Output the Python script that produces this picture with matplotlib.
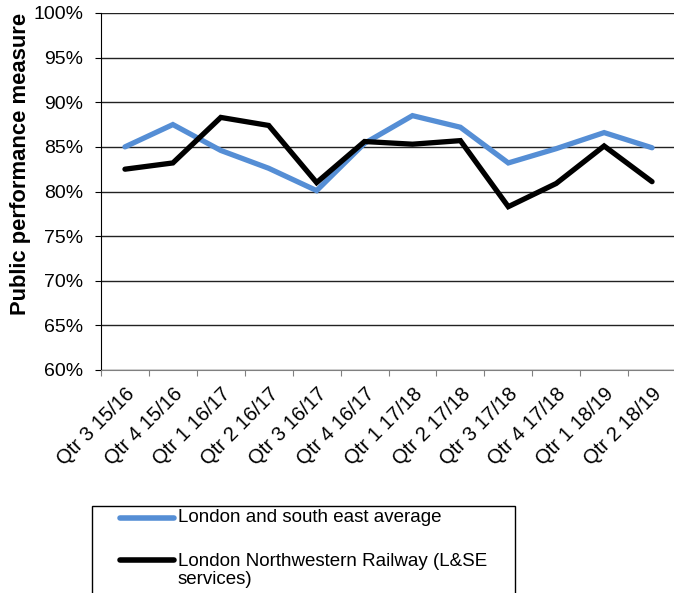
import matplotlib.pyplot as plt
from matplotlib.lines import Line2D
from matplotlib.patches import Rectangle
from matplotlib.ticker import PercentFormatter

plt.rcParams['font.family'] = ['Liberation Sans', 'DejaVu Sans']

quarters = ['Qtr 3 15/16', 'Qtr 4 15/16', 'Qtr 1 16/17', 'Qtr 2 16/17',
            'Qtr 3 16/17', 'Qtr 4 16/17', 'Qtr 1 17/18', 'Qtr 2 17/18',
            'Qtr 3 17/18', 'Qtr 4 17/18', 'Qtr 1 18/19', 'Qtr 2 18/19']
lse_avg = [85.0, 87.5, 84.6, 82.6, 80.1, 85.4, 88.5, 87.2, 83.2, 84.8, 86.6, 84.9]
lnwr = [82.5, 83.2, 88.3, 87.4, 81.0, 85.6, 85.3, 85.7, 78.3, 80.9, 85.1, 81.1]
names = ['London and south east average',
         'London Northwestern Railway (L&SE', 'services)']
colors = ['#558ED5', 'black']

W, H = 674, 593
fig = plt.figure(figsize=(W / 100, H / 100), dpi=100)
ax = fig.add_axes([101/W, 1 - 370/H, 575/W, 357/H])

x = list(range(len(quarters)))
ax.plot(x, lse_avg, color=colors[0], lw=3.8, solid_capstyle='round',
        solid_joinstyle='miter')
ax.plot(x, lnwr, color=colors[1], lw=3.8, solid_capstyle='round',
        solid_joinstyle='miter')

ax.set_xlim(-0.5, len(quarters) - 0.5)
ax.set_ylim(60, 100)
ax.set_yticks(range(60, 101, 5))
ax.yaxis.set_major_formatter(PercentFormatter(decimals=0))
ax.grid(axis='y', color='#222222', lw=1)
ax.set_axisbelow(True)

# tick marks on category boundaries, labels at the centres
ax.set_xticks([i - 0.5 for i in range(len(quarters) + 1)])
ax.set_xticklabels([])
ax.set_xticks(x, minor=True)
ax.set_xticklabels(quarters, minor=True, rotation=45, ha='right',
                   rotation_mode='anchor', fontsize=14.5)
ax.tick_params(axis='x', which='minor', length=0, pad=10)
ax.tick_params(axis='x', which='major', length=4.3, color='#808080')
ax.tick_params(axis='y', length=4.3, labelsize=14, pad=8.6)

for s in ['top', 'right']:
    ax.spines[s].set_visible(False)
ax.spines['bottom'].set_color('#808080')
ax.spines['left'].set_color('black')

ax.set_ylabel('Public performance measure', fontsize=15.8, fontweight='bold')
ax.yaxis.set_label_coords(-0.122, 0.577)

# legend box, drawn by hand (runs off the bottom of the figure)
fig.add_artist(Rectangle((92/W, -0.05), 423/W, (1 - 506/H) + 0.05,
                         transform=fig.transFigure, fill=False,
                         edgecolor='black', lw=1))
for yy, c in [(518, colors[0]), (560, colors[1])]:
    fig.add_artist(Line2D([120/W, 174/W], [1 - yy/H] * 2, color=c, lw=4,
                          solid_capstyle='round', transform=fig.transFigure))
fig.text(178/W, 1 - 518/H, names[0], fontsize=13.5, va='center')
fig.text(178/W, 1 - 561/H, names[1], fontsize=13.5, va='center')
fig.text(178/W, 1 - 580/H, names[2], fontsize=13.5, va='center')

fig.savefig('out.png', dpi=100)
